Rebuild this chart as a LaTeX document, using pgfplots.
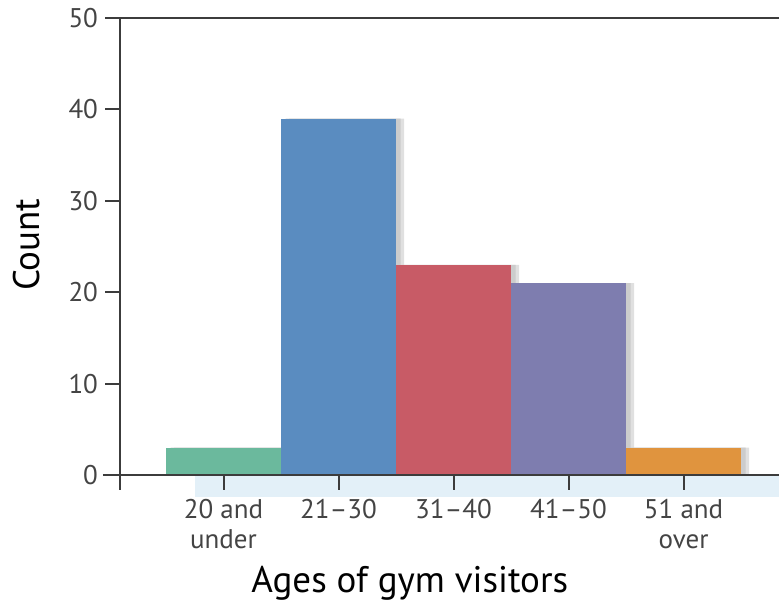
\documentclass[border=0pt]{standalone}
\usepackage{pgfplots}
\pgfplotsset{compat=1.18}
\usepackage{fontspec}
\setmainfont{PT Sans}

\definecolor{cgreen}{HTML}{6BB99D}
\definecolor{cblue}{HTML}{5A8CC0}
\definecolor{cred}{HTML}{C85B66}
\definecolor{cpurple}{HTML}{7E7DAF}
\definecolor{corange}{HTML}{E0943E}
\definecolor{bandblue}{HTML}{E3F0F8}
\definecolor{axisgray}{HTML}{3C3C3C}
\definecolor{labgray}{HTML}{444444}

\begin{document}
\begin{tikzpicture}
\begin{axis}[
    scale only axis,
    width=329.5pt, height=228.5pt,
    xmin=0, xmax=5.73, ymin=0, ymax=50,
    axis x line*=bottom, axis y line*=left,
    axis on top,
    clip=false,
    axis line style={line width=1pt, color=axisgray},
    tick align=outside,
    major tick length=7.5pt,
    tick style={line width=1pt, color=axisgray},
    ytick={0,10,...,50},
    xtick={0.9,1.9,2.9,3.9,4.9},
    xticklabels={20 and\\under, 21--30, 31--40, 41--50, 51 and\\over},
    xticklabel style={align=center, font=\fontsize{13.5}{15}\selectfont, text=labgray, yshift=-1pt},
    yticklabel style={font=\fontsize{13.5}{15}\selectfont, text=labgray},
    /pgf/number format/assume math mode=true,
]
  % light band under the x axis
  \fill[bandblue] (axis cs:0.65,0) rectangle (axis cs:5.73,-2.4);

  % soft shadows right of each bar
  \addplot[ybar, bar width=1, bar shift=0pt, fill=black!12, draw=none]
    coordinates {(0.97,3) (1.97,39) (2.97,23) (3.97,21) (4.97,3)};
  \addplot[ybar, bar width=1, bar shift=0pt, fill=black!20, draw=none]
    coordinates {(0.94,3) (1.94,39) (2.94,23) (3.94,21) (4.94,3)};

  \addplot[ybar, bar width=1, bar shift=0pt, fill=cgreen, draw=none] coordinates {(0.9,3)};
  \addplot[ybar, bar width=1, bar shift=0pt, fill=cblue, draw=none] coordinates {(1.9,39)};
  \addplot[ybar, bar width=1, bar shift=0pt, fill=cred, draw=none] coordinates {(2.9,23)};
  \addplot[ybar, bar width=1, bar shift=0pt, fill=cpurple, draw=none] coordinates {(3.9,21)};
  \addplot[ybar, bar width=1, bar shift=0pt, fill=corange, draw=none] coordinates {(4.9,3)};

  % axis extensions and top rule
  \draw[line width=1pt, axisgray] (axis cs:-0.148,0) -- (axis cs:0,0);
  \draw[line width=1pt, axisgray] (axis cs:0,0) -- (axis cs:0,-1.64);
  \draw[line width=1pt, axisgray] (axis cs:-0.13,50) -- (axis cs:5.73,50);

  \node[font=\fontsize{18.5}{21}\selectfont] at (axis cs:2.52,0) [yshift=-54pt] {Ages of gym visitors};
  \node[xshift=-46.5pt, rotate=90, font=\fontsize{18.5}{21}\selectfont] at (axis cs:0,25.2) {Count};

  \coordinate (bl) at (rel axis cs:0,0);
  \coordinate (tr) at (rel axis cs:1,1);
\end{axis}
\pgfresetboundingbox
\path[use as bounding box] ([shift={(-60pt,-63pt)}]bl) rectangle ([shift={(0pt,9pt)}]tr);
\end{tikzpicture}
\end{document}
